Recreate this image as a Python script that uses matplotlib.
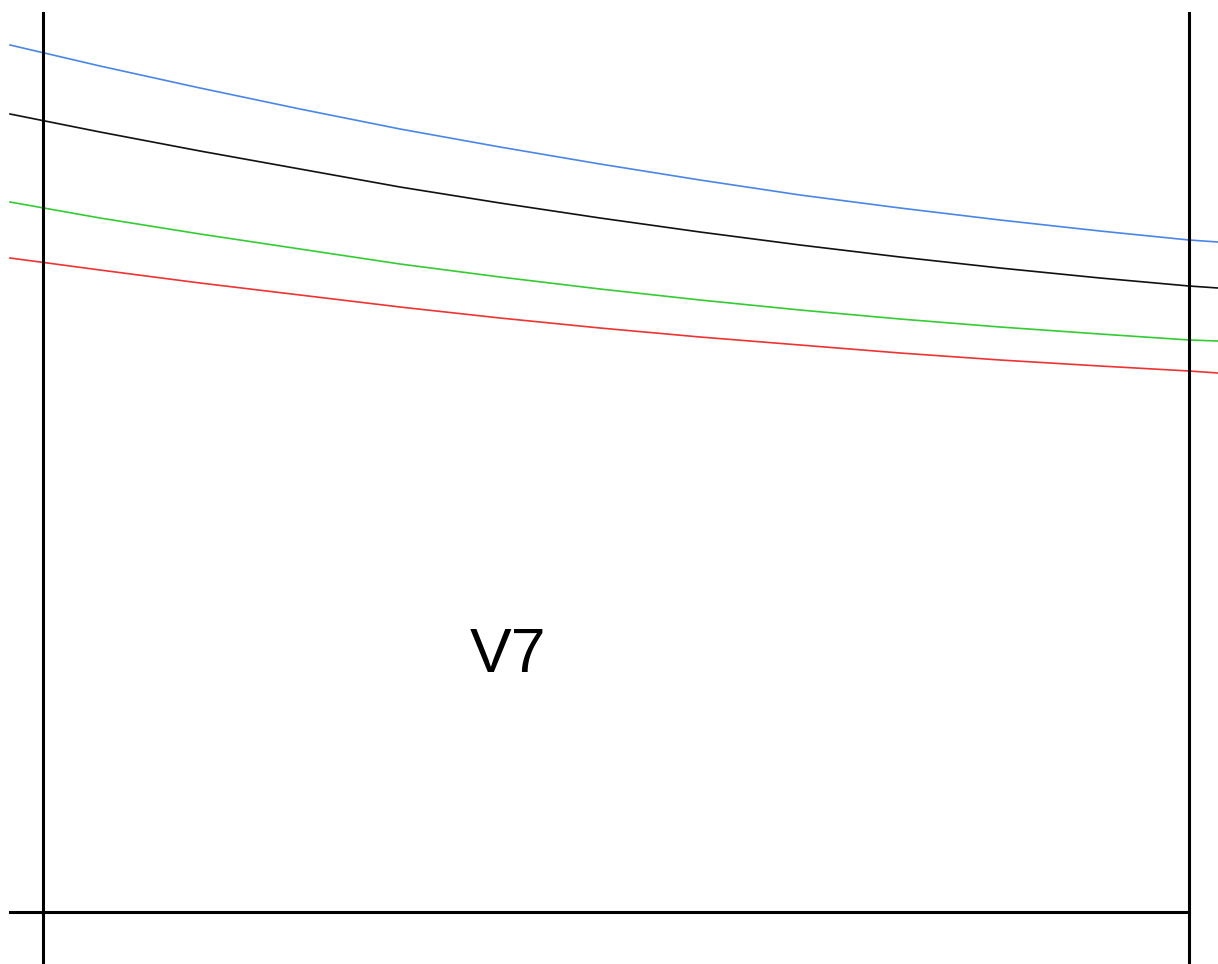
import matplotlib.pyplot as plt

# curve samples (image units, y grows downwards)
x = [10, 100, 200, 300, 400, 500, 600, 700, 800, 900, 1000, 1100, 1189, 1218]
blue = [45, 66, 88, 109, 129, 147, 164, 180, 195, 208, 220, 231, 240, 242]
black = [114, 132, 151, 169, 187, 203, 218, 232, 245, 257, 268, 278, 286, 288]
green = [202, 218, 234, 249, 264, 277, 289, 300, 310, 319, 327, 334, 340, 341]
red = [258, 270, 283, 295, 307, 318, 328, 337, 345, 353, 360, 366, 371, 373]

label = "V7"

fig = plt.figure(figsize=(12.18, 9.64), dpi=100)
ax = fig.add_axes([0, 0, 1, 1])
ax.set_xlim(0, 1218)
ax.set_ylim(964, 0)
ax.axis('off')

ax.plot(x, blue, color='#4a86e8', lw=1.2)
ax.plot(x, black, color='#111111', lw=1.2)
ax.plot(x, green, color='#33cc33', lw=1.2)
ax.plot(x, red, color='#ee3333', lw=1.2)

# frame lines
ax.plot([43, 43], [13, 964], color='black', lw=2.2)
ax.plot([1189, 1189], [13, 964], color='black', lw=2.2)
ax.plot([10, 1189], [912, 912], color='black', lw=2.2)

ax.text(508, 656, label, fontsize=45, family='Liberation Sans',
        ha='center', va='center')

fig.savefig('out.png', dpi=100)
